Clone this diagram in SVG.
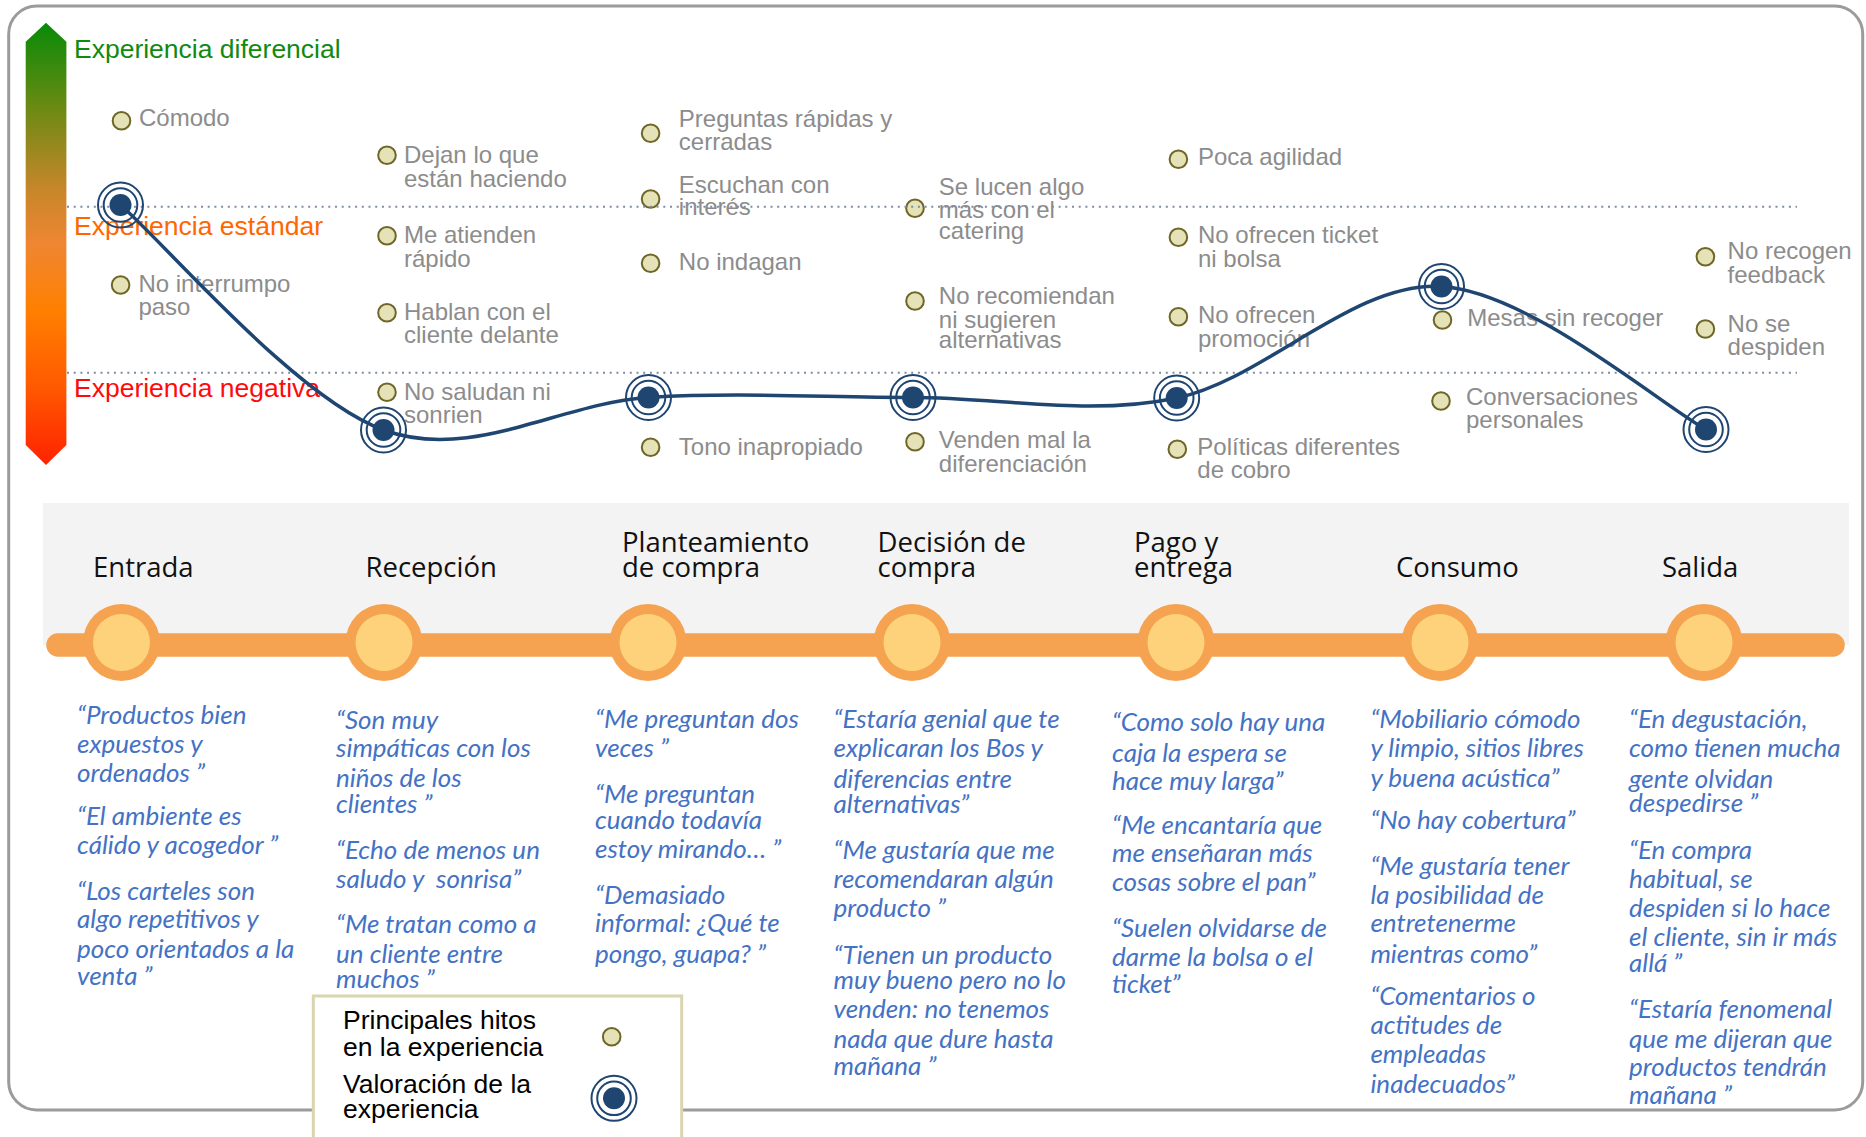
<svg xmlns="http://www.w3.org/2000/svg" xmlns:xlink="http://www.w3.org/1999/xlink" width="1866" height="1137" viewBox="0 0 1866 1137">
  <style>
    .g { font-family: "Liberation Sans", Arial, sans-serif; font-size: 24px; fill: #8c8c8c; }
    .lvl { font-family: "Liberation Sans", Arial, sans-serif; font-size: 26.5px; }
    .q { font-family: Lato, "Open Sans", sans-serif; font-style: italic; font-size: 26px; fill: #4472c4; }
    .st { font-family: "Open Sans", "Noto Sans", sans-serif; font-size: 27.5px; fill: #111111; }
    .lg { font-family: "Liberation Sans", Arial, sans-serif; font-size: 26.5px; fill: #000000; }
    .dot { fill: #e6e2b8; stroke: #6e6627; stroke-width: 2; }
    .ring { fill: none; stroke: #1f4571; stroke-width: 2; }
    .guide { stroke: #7d8ca2; stroke-width: 2; stroke-dasharray: 2 4.7; fill: none; }
  </style>
  <defs>
    <linearGradient id="scaleGrad" x1="0" y1="0" x2="0" y2="1">
      <stop offset="0" stop-color="#078a07"/>
      <stop offset="0.2" stop-color="#6f8a14"/>
      <stop offset="0.38" stop-color="#c9862a"/>
      <stop offset="0.5" stop-color="#ef8632"/>
      <stop offset="0.65" stop-color="#ff8000"/>
      <stop offset="0.82" stop-color="#ff5a00"/>
      <stop offset="1" stop-color="#ff2200"/>
    </linearGradient>
    <g id="rating">
      <circle r="22.5" class="ring"/>
      <circle r="16.8" class="ring"/>
      <circle r="11" fill="#1f4571"/>
    </g>
    <g id="stage">
      <circle r="38.5" fill="#f5a251"/>
      <circle r="28.5" fill="#fdd27a"/>
    </g>
  </defs>

  <rect width="1866" height="1137" fill="#ffffff"/>

  <!-- outer frame -->
  <rect x="8.7" y="6" width="1854" height="1104" rx="28" ry="28" fill="none" stroke="#9b9b9b" stroke-width="3"/>

  <!-- rating scale -->
  <g id="scale">
    <polygon points="25.7,41.7 46,22.7 66.4,41.7 66.4,445 46,465 25.7,445" fill="url(#scaleGrad)"/>
    <text class="lvl" x="74" y="58.3" fill="#108a10">Experiencia diferencial</text>
    <text class="lvl" x="74" y="235" fill="#ff6600">Experiencia estándar</text>
    <text class="lvl" x="74" y="396.7" fill="#ff0a0a">Experiencia negativa</text>
  </g>

  <!-- milestones per stage -->
  <g id="hitos-entrada">
    <circle class="dot" cx="121.5" cy="120.7" r="8.8"/>
    <text class="g" x="139" y="126">Cómodo</text>
    <circle class="dot" cx="120.6" cy="285" r="8.8"/>
    <text class="g" x="138.4" y="291.7">No interrumpo<tspan x="138.4" y="315">paso</tspan></text>
  </g>
  <g id="hitos-recepcion">
    <circle class="dot" cx="387" cy="155.3" r="8.8"/>
    <text class="g" x="404" y="163.3">Dejan lo que<tspan x="404" y="186.7">están haciendo</tspan></text>
    <circle class="dot" cx="387" cy="235.7" r="8.8"/>
    <text class="g" x="404" y="243.3">Me atienden<tspan x="404" y="266.7">rápido</tspan></text>
    <circle class="dot" cx="387" cy="312.7" r="8.8"/>
    <text class="g" x="404" y="320">Hablan con el<tspan x="404" y="343.3">cliente delante</tspan></text>
    <circle class="dot" cx="387" cy="392.3" r="8.8"/>
    <text class="g" x="404" y="400">No saludan ni<tspan x="404" y="423.3">sonrien</tspan></text>
  </g>
  <g id="hitos-planteamiento">
    <circle class="dot" cx="650.6" cy="133.3" r="8.8"/>
    <text class="g" x="678.8" y="126.7">Preguntas rápidas y<tspan x="678.8" y="150">cerradas</tspan></text>
    <circle class="dot" cx="650.6" cy="199" r="8.8"/>
    <text class="g" x="678.8" y="192.7">Escuchan con<tspan x="678.8" y="215">interés</tspan></text>
    <circle class="dot" cx="650.6" cy="263.3" r="8.8"/>
    <text class="g" x="678.8" y="270">No indagan</text>
    <circle class="dot" cx="650.6" cy="447.3" r="8.8"/>
    <text class="g" x="678.8" y="455">Tono inapropiado</text>
  </g>
  <g id="hitos-decision">
    <circle class="dot" cx="915" cy="208.3" r="8.8"/>
    <text class="g" x="938.8" y="195">Se lucen algo<tspan x="938.8" y="218.3">más con el</tspan><tspan x="938.8" y="239.3">catering</tspan></text>
    <circle class="dot" cx="915" cy="301" r="8.8"/>
    <text class="g" x="938.8" y="304">No recomiendan<tspan x="938.8" y="327.7">ni sugieren</tspan><tspan x="938.8" y="348.3">alternativas</tspan></text>
    <circle class="dot" cx="915" cy="441.7" r="8.8"/>
    <text class="g" x="938.8" y="448.3">Venden mal la<tspan x="938.8" y="471.7">diferenciación</tspan></text>
  </g>
  <g id="hitos-pago">
    <circle class="dot" cx="1178.4" cy="159.3" r="8.8"/>
    <text class="g" x="1198" y="165">Poca agilidad</text>
    <circle class="dot" cx="1178.4" cy="237.3" r="8.8"/>
    <text class="g" x="1198" y="243.3">No ofrecen ticket<tspan x="1198" y="266.7">ni bolsa</tspan></text>
    <circle class="dot" cx="1178.4" cy="316.7" r="8.8"/>
    <text class="g" x="1198" y="323.3">No ofrecen<tspan x="1198" y="346.7">promoción</tspan></text>
    <circle class="dot" cx="1177.3" cy="449.3" r="8.8"/>
    <text class="g" x="1197.3" y="455">Políticas diferentes<tspan x="1197.3" y="478.3">de cobro</tspan></text>
  </g>
  <g id="hitos-consumo">
    <circle class="dot" cx="1442.5" cy="320" r="8.8"/>
    <text class="g" x="1467.2" y="325.5">Mesas sin recoger</text>
    <circle class="dot" cx="1441" cy="401" r="8.8"/>
    <text class="g" x="1466" y="405">Conversaciones<tspan x="1466" y="428.3">personales</tspan></text>
  </g>
  <g id="hitos-salida">
    <circle class="dot" cx="1705.4" cy="256.7" r="8.8"/>
    <text class="g" x="1727.6" y="259.3">No recogen<tspan x="1727.6" y="282.7">feedback</tspan></text>
    <circle class="dot" cx="1705.4" cy="329" r="8.8"/>
    <text class="g" x="1727.6" y="331.7">No se<tspan x="1727.6" y="355">despiden</tspan></text>
  </g>

  <!-- level guides -->
  <g id="guides">
    <line class="guide" x1="67" y1="206.7" x2="1797" y2="206.7"/>
    <line class="guide" x1="67" y1="372.7" x2="1797" y2="372.7"/>
  </g>

  <!-- experience curve -->
  <g id="connectors">
    <path d="M120.5,205 C164.3,242.5 295.5,397.9 383.5,430 C471.5,462.1 560.25,402.9 648.5,397.5 C736.75,392.1 825,397.4 913,397.5 C1001,397.6 1088.6,416.5 1176.7,398 C1264.8,379.5 1353.3,281.25 1441.5,286.5 C1529.7,291.75 1661.9,405.7 1706,429.5" fill="none" stroke="#1f4571" stroke-width="3.5"/>
  </g>

  <!-- rating markers -->
  <g id="valoracion-entrada"><use xlink:href="#rating" x="120.5" y="205"/></g>
  <g id="valoracion-recepcion"><use xlink:href="#rating" x="383.5" y="430"/></g>
  <g id="valoracion-planteamiento"><use xlink:href="#rating" x="648.5" y="397.5"/></g>
  <g id="valoracion-decision"><use xlink:href="#rating" x="913" y="397.5"/></g>
  <g id="valoracion-pago"><use xlink:href="#rating" x="1176.7" y="398"/></g>
  <g id="valoracion-consumo"><use xlink:href="#rating" x="1441.5" y="286.5"/></g>
  <g id="valoracion-salida"><use xlink:href="#rating" x="1706" y="429.5"/></g>

  <!-- journey timeline -->
  <g id="timeline">
    <rect x="43" y="503" width="1806" height="142" fill="#f3f3f3"/>
    <line x1="58" y1="645" x2="1833" y2="645" stroke="#f5a251" stroke-width="23.5" stroke-linecap="round"/>
  </g>
  <g id="etapa-entrada">
    <use xlink:href="#stage" x="121.5" y="642.5"/>
    <text class="st" x="93" y="577">Entrada</text>
  </g>
  <g id="etapa-recepcion">
    <use xlink:href="#stage" x="384" y="642.5"/>
    <text class="st" x="365.5" y="577">Recepción</text>
  </g>
  <g id="etapa-planteamiento">
    <use xlink:href="#stage" x="648" y="642.5"/>
    <text class="st" x="622" y="552">Planteamiento<tspan x="622" y="577">de compra</tspan></text>
  </g>
  <g id="etapa-decision">
    <use xlink:href="#stage" x="912" y="642.5"/>
    <text class="st" x="877.5" y="552">Decisión de<tspan x="877.5" y="577">compra</tspan></text>
  </g>
  <g id="etapa-pago">
    <use xlink:href="#stage" x="1176" y="642.5"/>
    <text class="st" x="1134" y="552">Pago y<tspan x="1134" y="577">entrega</tspan></text>
  </g>
  <g id="etapa-consumo">
    <use xlink:href="#stage" x="1440" y="642.5"/>
    <text class="st" x="1396" y="577">Consumo</text>
  </g>
  <g id="etapa-salida">
    <use xlink:href="#stage" x="1704" y="642.5"/>
    <text class="st" x="1662" y="577">Salida</text>
  </g>

  <!-- customer quotes -->
  <g id="citas-entrada">
    <text class="q" x="77" y="724">“Productos bien<tspan x="77" y="753">expuestos y</tspan><tspan x="77" y="781.6">ordenados ”</tspan><tspan x="77" y="825">“El ambiente es</tspan><tspan x="77" y="854">cálido y acogedor ”</tspan><tspan x="77" y="900">“Los carteles son</tspan><tspan x="77" y="928">algo repetitivos y</tspan><tspan x="77" y="957.6">poco orientados a la</tspan><tspan x="77" y="985">venta ”</tspan></text>
  </g>
  <g id="citas-recepcion">
    <text class="q" x="336" y="729">“Son muy<tspan x="336" y="757">simpáticas con los</tspan><tspan x="336" y="787">niños de los</tspan><tspan x="336" y="813">clientes ”</tspan><tspan x="336" y="859">“Echo de menos un</tspan><tspan x="336" y="887.6">saludo y&#160; sonrisa”</tspan><tspan x="336" y="932.5">“Me tratan como a</tspan><tspan x="336" y="963">un cliente entre</tspan><tspan x="336" y="988">muchos ”</tspan></text>
  </g>
  <g id="citas-planteamiento">
    <text class="q" x="595" y="728">“Me preguntan dos<tspan x="595" y="756.5">veces ”</tspan><tspan x="595" y="802.6">“Me preguntan</tspan><tspan x="595" y="828.6">cuando todavía</tspan><tspan x="595" y="858">estoy mirando… ”</tspan><tspan x="595" y="904">“Demasiado</tspan><tspan x="595" y="932.4">informal: ¿Qué te</tspan><tspan x="595" y="962.6">pongo, guapa? ”</tspan></text>
  </g>
  <g id="citas-decision">
    <text class="q" x="833.5" y="728">“Estaría genial que te<tspan x="833.5" y="756.5">explicaran los Bos y</tspan><tspan x="833.5" y="788">diferencias entre</tspan><tspan x="833.5" y="813">alternativas”</tspan><tspan x="833.5" y="859">“Me gustaría que me</tspan><tspan x="833.5" y="887.6">recomendaran algún</tspan><tspan x="833.5" y="917">producto ”</tspan><tspan x="833.5" y="964">“Tienen un producto</tspan><tspan x="833.5" y="989">muy bueno pero no lo</tspan><tspan x="833.5" y="1018">venden: no tenemos</tspan><tspan x="833.5" y="1047.6">nada que dure hasta</tspan><tspan x="833.5" y="1075">mañana ”</tspan></text>
  </g>
  <g id="citas-pago">
    <text class="q" x="1112" y="731">“Como solo hay una<tspan x="1112" y="761.5">caja la espera se</tspan><tspan x="1112" y="790">hace muy larga”</tspan><tspan x="1112" y="834">“Me encantaría que</tspan><tspan x="1112" y="862">me enseñaran más</tspan><tspan x="1112" y="891.4">cosas sobre el pan”</tspan><tspan x="1112" y="936.6">“Suelen olvidarse de</tspan><tspan x="1112" y="966">darme la bolsa o el</tspan><tspan x="1112" y="993">ticket”</tspan></text>
  </g>
  <g id="citas-consumo">
    <text class="q" x="1370.4" y="728">“Mobiliario cómodo<tspan x="1370.4" y="756.5">y limpio, sitios libres</tspan><tspan x="1370.4" y="787">y buena acústica”</tspan><tspan x="1370.4" y="828.6">“No hay cobertura”</tspan><tspan x="1370.4" y="874.6">“Me gustaría tener</tspan><tspan x="1370.4" y="904">la posibilidad de</tspan><tspan x="1370.4" y="932.4">entretenerme</tspan><tspan x="1370.4" y="962.6">mientras como”</tspan><tspan x="1370.4" y="1004.5">“Comentarios o</tspan><tspan x="1370.4" y="1033.8">actitudes de</tspan><tspan x="1370.4" y="1063">empleadas</tspan><tspan x="1370.4" y="1092.5">inadecuados”</tspan></text>
  </g>
  <g id="citas-salida">
    <text class="q" x="1629" y="728">“En degustación,<tspan x="1629" y="756.5">como tienen mucha</tspan><tspan x="1629" y="788">gente olvidan</tspan><tspan x="1629" y="812">despedirse ”</tspan><tspan x="1629" y="859">“En compra</tspan><tspan x="1629" y="887.6">habitual, se</tspan><tspan x="1629" y="917">despiden si lo hace</tspan><tspan x="1629" y="946">el cliente, sin ir más</tspan><tspan x="1629" y="972">allá ”</tspan><tspan x="1629" y="1018">“Estaría fenomenal</tspan><tspan x="1629" y="1047.6">que me dijeran que</tspan><tspan x="1629" y="1075.7">productos tendrán</tspan><tspan x="1629" y="1104">mañana ”</tspan></text>
  </g>

  <!-- legend -->
  <g id="leyenda">
    <rect x="313.3" y="996" width="368.4" height="160" fill="#ffffff" stroke="#d9d5b0" stroke-width="3"/>
    <text class="lg" x="343" y="1029.3">Principales hitos<tspan x="343" y="1056">en la experiencia</tspan></text>
    <circle class="dot" cx="611.7" cy="1036.7" r="8.8"/>
    <text class="lg" x="343" y="1093.3">Valoración de la<tspan x="343" y="1118.3">experiencia</tspan></text>
    <use xlink:href="#rating" x="614" y="1098.3"/>
  </g>
</svg>
